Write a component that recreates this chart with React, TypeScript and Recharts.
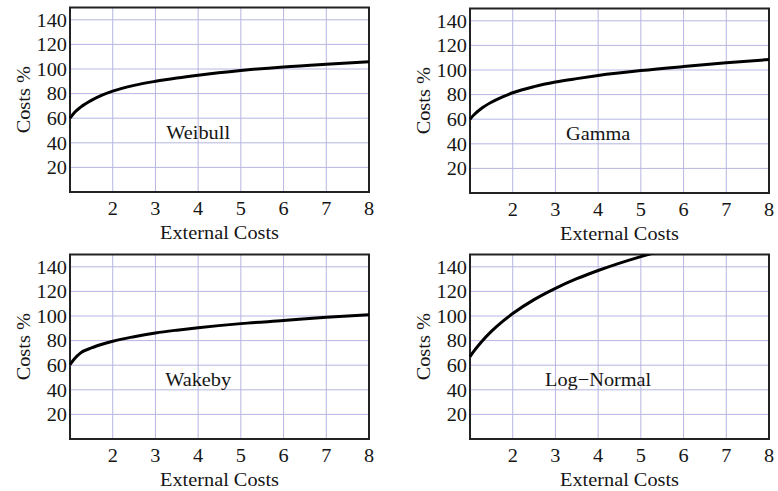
import React from 'react';
import { LineChart, Line, XAxis, YAxis, CartesianGrid, ReferenceArea, ReferenceDot } from 'recharts';

// External costs (x) sampled positions
const xValues = [1, 1.1, 1.25, 1.5, 1.75, 2, 2.5, 3, 3.5, 4, 5, 6, 7, 8];
// Costs % for each distribution
const weibull = [60, 64.5, 69, 74.5, 78.7, 82, 86.7, 90, 92.7, 95, 98.8, 101.7, 103.9, 105.8];
const gamma = [60, 63.8, 68.3, 73.8, 78, 81.5, 86.5, 90.2, 93, 95.5, 99.5, 102.8, 105.8, 108.5];
const wakeby = [60.5, 65, 70, 74, 77, 79.5, 83.2, 86.2, 88.5, 90.5, 93.8, 96.3, 98.9, 101];
const logNormal = [67, 71.8, 78.3, 87.5, 95.3, 102, 113.3, 122.5, 130.3, 137, 148.3, 157.5, 165.3, 172];

const panelNames = ['Weibull', 'Gamma', 'Wakeby', 'Log\u2212Normal'];
const xTicks = [2, 3, 4, 5, 6, 7, 8];
const yTicks = [20, 40, 60, 80, 100, 120, 140];
const xLabel = 'External Costs';
const yLabel = 'Costs %';

const FONT = '"Liberation Serif", "Times New Roman", serif';
const INK = '#151515';
const GRID = '#b6b6e2';
const FS = 19;
const SX = 1.07;

const SText = ({ x, y, anchor, rotate = 0, baseline, children }: any) => (
  <text
    transform={`translate(${x} ${y}) rotate(${rotate}) scale(${SX} 1)`}
    x={0}
    y={0}
    textAnchor={anchor}
    dominantBaseline={baseline}
    fontSize={FS}
    fontFamily={FONT}
    fill={INK}
  >
    {children}
  </text>
);

const XTick = (props: any) => (
  <SText x={props.x} y={props.y + 0.71 * FS} anchor="middle">
    {props.payload.value}
  </SText>
);

const YTick = (props: any) => (
  <SText x={props.x} y={props.y + 0.36 * FS} anchor="end">
    {props.payload.value}
  </SText>
);

const XLabel = (props: any) => {
  const vb = props.viewBox || { x: 70, y: 192, width: 299, height: 52 };
  return (
    <SText x={vb.x + vb.width / 2} y={vb.y + 46.5} anchor="middle">
      {xLabel}
    </SText>
  );
};

const YLabel = (props: any) => {
  const vb = props.viewBox || { x: 0, y: 7.5, width: 70, height: 184.5 };
  return (
    <SText x={vb.x + vb.width - 46.5} y={vb.y + vb.height / 2} anchor="middle" rotate={-90} baseline="central">
      {yLabel}
    </SText>
  );
};

function Panel({ values, name, left, top }: { values: number[]; name: string; left: number; top: number }) {
  const data = xValues.map((x, i) => ({ x, y: values[i] }));
  return (
    <div style={{ position: 'absolute', left, top }}>
      <LineChart width={389} height={244} data={data} margin={{ top: 7.5, right: 20, bottom: 0, left: 0 }}>
        <CartesianGrid stroke={GRID} strokeWidth={1} />
        <XAxis
          dataKey="x"
          type="number"
          domain={[1, 8]}
          ticks={xTicks}
          interval={0}
          tickLine={false}
          axisLine={false}
          tickSize={0}
          tickMargin={10}
          height={52}
          tick={<XTick />}
          label={<XLabel />}
        />
        <YAxis
          type="number"
          domain={[0, 150]}
          ticks={yTicks}
          interval={0}
          allowDataOverflow
          width={70}
          tickLine={false}
          axisLine={false}
          tickSize={0}
          tickMargin={3}
          tick={<YTick />}
          label={<YLabel />}
        />
        <ReferenceArea x1={1} x2={8} y1={0} y2={150} fill="none" fillOpacity={0} stroke="#222" strokeWidth={2} ifOverflow="visible" />
        <ReferenceDot
          x={4}
          y={49}
          r={1}
          ifOverflow="visible"
          shape={(p: any) => (
            <SText x={p.cx} y={p.cy + 0.36 * FS} anchor="middle">
              {name}
            </SText>
          )}
        />
        <Line dataKey="y" type="monotone" stroke="#000" strokeWidth={3} dot={false} activeDot={false} isAnimationActive={false} />
      </LineChart>
    </div>
  );
}

export default function App() {
  return (
    <div style={{ position: 'absolute', left: 0, top: 0, width: 778, height: 491, background: '#fff', overflow: 'hidden' }}>
      <Panel values={weibull} name={panelNames[0]} left={0} top={0} />
      <Panel values={gamma} name={panelNames[1]} left={399.5} top={1} />
      <Panel values={wakeby} name={panelNames[2]} left={0} top={247} />
      <Panel values={logNormal} name={panelNames[3]} left={399.5} top={247} />
    </div>
  );
}
